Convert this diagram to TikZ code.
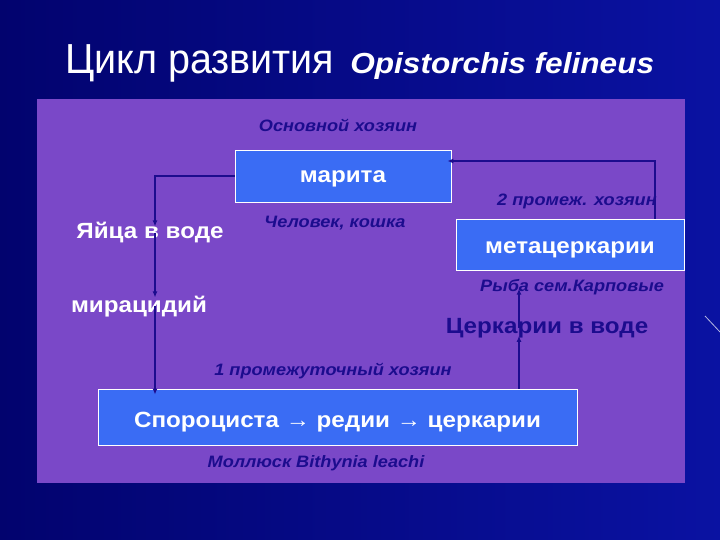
\documentclass[tikz,border=0pt]{standalone}
\usepackage{fontspec}
\usepackage{graphicx}
\setmainfont{Liberation Sans}
\usetikzlibrary{arrows.meta}
\definecolor{bgdark}{HTML}{02036E}
\definecolor{bglight}{HTML}{0A12A2}
\definecolor{panel}{HTML}{7A48C8}
\definecolor{boxblue}{HTML}{3A6CF4}
\definecolor{navy}{HTML}{1C0C8E}
\newcommand{\wx}[1]{\scalebox{1.1}[1]{#1}}
\begin{document}
\begin{tikzpicture}[x=1pt,y=-1pt,
  hostlbl/.style={font=\fontsize{16.5}{19}\selectfont\bfseries\itshape, text=navy, inner sep=0pt, anchor=base},
  stage/.style={font=\fontsize{22}{26}\selectfont\bfseries, text=white, inner sep=0pt, anchor=base},
  stagebox/.style={draw=white, line width=0.8pt, fill=boxblue, inner sep=0pt, text depth=0pt,
    font=\fontsize{22}{26}\selectfont\bfseries, text=white},
  flow/.style={draw=navy, line width=1.3pt, -{Latex[length=6pt,width=5pt]}}]
\shade[left color=bgdark, right color=bglight] (0,0) rectangle (720,540);
\useasboundingbox (0,0) rectangle (720,540);
\draw[white, opacity=0.7, line width=0.8pt] (705,316) -- (720,332);
\fill[panel] (37,99) rectangle (685,483);

\node[anchor=base west, text=white, inner sep=0pt] (title) at (65,74)
  {\scalebox{0.94}[1]{\fontsize{42}{46}\selectfont Цикл развития}\hspace{16pt}\scalebox{1.09}[1]{\fontsize{29}{33}\selectfont\bfseries\itshape Opistorchis felineus}};

\node[stagebox, minimum width=216pt, minimum height=52pt, text height=14pt] (marita) at (343,176) {\wx{марита}};
\node[stagebox, minimum width=228pt, minimum height=51pt, text height=18pt] (meta) at (570,244.5) {\wx{метацеркарии}};
\node[stagebox, minimum width=479pt, minimum height=56pt, text height=20pt] (spor) at (337.5,417) {\wx{Спороциста → редии → церкарии}};

\node[hostlbl] (osn) at (338,132) {\wx{Основной хозяин}};
\node[hostlbl] (chel) at (335,228) {\wx{Человек, кошка}};
\node[hostlbl] (prom2) at (577,206) {\wx{2 промеж. хозяин}};
\node[hostlbl] (ryba) at (572,291) {\wx{Рыба сем.Карповые}};
\node[hostlbl] (prom1) at (333,375) {\wx{1 промежуточный хозяин}};
\node[hostlbl] (moll) at (316,467) {\wx{Моллюск Bithynia leachi}};

\node[stage] (eggs) at (150,239) {\wx{Яйца в воде}};
\node[stage] (mira) at (139,312) {\wx{мирацидий}};
\node[stage, text=navy] (cerc) at (547,333) {\wx{Церкарии в воде}};

\coordinate (colL) at (155,0);
\coordinate (colR) at (519,0);
\coordinate (colM) at (655,0);
\coordinate (topY) at (0,161);

\draw[flow] (marita.west) -| ([yshift=-4pt]colL |- eggs.north);
\draw[flow] (colL |- eggs.center) -- ([yshift=-2pt]colL |- mira.north);
\draw[flow] (colL |- mira.center) -- ([yshift=-6pt]colL |- spor.north);
\draw[flow] (colR |- spor.north) -- ([yshift=2pt]colR |- cerc.south);
\draw[flow] (colR |- cerc.center) -- ([yshift=-2pt]colR |- ryba.center);
\draw[flow] (colM |- meta.north) -- (colM |- topY) -- ([xshift=-4pt]marita.east |- topY);
\end{tikzpicture}
\end{document}
